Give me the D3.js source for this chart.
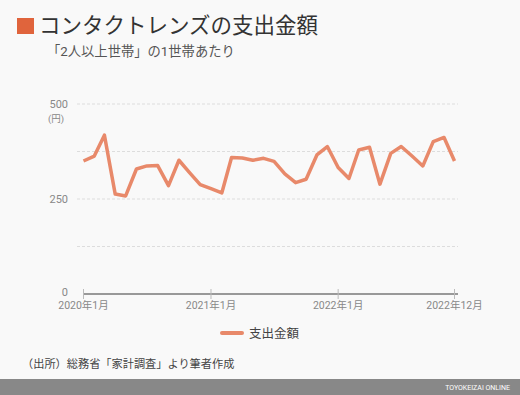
<!DOCTYPE html>
<html>
<head>
<meta charset="utf-8">
<script src="https://cdn.jsdelivr.net/npm/d3@7"></script>
<style>
  body { margin: 0; background: #f9f9f9; }
  svg { display: block; font-family: Roboto, "Noto Sans CJK JP", sans-serif; }
</style>
</head>
<body>
<svg id="chart" width="520" height="395"></svg>
<script>
// monthly, 2020-01 .. 2022-12
const months = d3.range(36).map(i => new Date(2020, i, 1));
const spending = [
  350, 363, 418, 263, 258, 329, 337, 338, 285, 352, 319, 288,
  277, 266, 359, 358, 352, 357, 349, 316, 293, 302, 366, 388,
  333, 304, 379, 386, 289, 370, 388, 363, 337, 401, 412, 350
];
const yTicks = [0, 125, 250, 375, 500];
const yLabels = { 0: '0', 250: '250', 500: '500' };
const xTicks = [new Date(2020, 0, 1), new Date(2021, 0, 1), new Date(2022, 0, 1), new Date(2022, 11, 1)];

const svg = d3.select('#chart');
const lineColor = '#e8896a';

let x = d3.scaleTime().domain([months[0], months[35]]).range([83.5, 454.5]);
let y = d3.scaleLinear().domain([0, 500]).range([294, 104]);

// title
svg.append('rect').attr('x', 17).attr('y', 18).attr('width', 17).attr('height', 16).attr('fill', '#e0643c');
svg.append('text').attr('x', 39).attr('y', 33).attr('font-size', 21.5).attr('fill', '#333')
  .text('コンタクトレンズの支出金額');
svg.append('text').attr('x', 47).attr('y', 56).attr('font-size', 13.3).attr('fill', '#555')
  .text('「2人以上世帯」の1世帯あたり');

// grid
svg.append('g').selectAll('line')
  .data(yTicks.filter(d => d > 0))
  .enter().append('line')
  .attr('x1', 77).attr('x2', 458)
  .attr('y1', d => y(d)).attr('y2', d => y(d))
  .attr('stroke', '#ddd').attr('stroke-dasharray', '3,2');

svg.append('g').selectAll('text')
  .data(yTicks.filter(d => yLabels[d] !== undefined))
  .enter().append('text')
  .attr('x', 68).attr('y', d => y(d) + (d === 0 ? 2 : 4))
  .attr('text-anchor', 'end').attr('font-size', 11).attr('fill', '#888')
  .text(d => yLabels[d]);
svg.append('text').attr('x', 48).attr('y', 122).attr('font-size', 9.5).attr('fill', '#888').text('(円)');

// x axis
svg.append('line').attr('x1', 83).attr('x2', 458).attr('y1', y(0)).attr('y2', y(0))
  .attr('stroke', '#999').attr('stroke-width', 2);
svg.append('g').selectAll('line')
  .data(xTicks)
  .enter().append('line')
  .attr('x1', d => x(d)).attr('x2', d => x(d))
  .attr('y1', y(0) - 5).attr('y2', y(0) + 5)
  .attr('stroke', '#bbb');
svg.append('g').selectAll('text')
  .data(xTicks)
  .enter().append('text')
  .attr('x', d => x(d)).attr('y', 308.5)
  .attr('text-anchor', 'middle').attr('font-size', 10.5).attr('fill', '#888')
  .text(d => d.getFullYear() + '年' + (d.getMonth() + 1) + '月');

// line
svg.append('path')
  .datum(spending)
  .attr('fill', 'none').attr('stroke', lineColor).attr('stroke-width', 3.5)
  .attr('stroke-linejoin', 'round')
  .attr('d', d3.line().x((d, i) => x(months[i])).y(d => y(d)));

// legend
svg.append('line').attr('x1', 222).attr('x2', 242).attr('y1', 333).attr('y2', 333)
  .attr('stroke', lineColor).attr('stroke-width', 4).attr('stroke-linecap', 'round');
svg.append('text').attr('x', 249).attr('y', 338).attr('font-size', 12.5).attr('fill', '#444').text('支出金額');

// source
svg.append('text').attr('x', 22).attr('y', 368).attr('font-size', 11.2).attr('fill', '#444')
  .text('（出所）総務省「家計調査」より筆者作成');

// footer
svg.append('rect').attr('x', 0).attr('y', 379).attr('width', 520).attr('height', 16).attr('fill', '#888');
svg.append('text').attr('x', 510).attr('y', 390).attr('text-anchor', 'end')
  .attr('font-size', 7).attr('fill', '#fff').text('TOYOKEIZAI ONLINE');
</script>
</body>
</html>
